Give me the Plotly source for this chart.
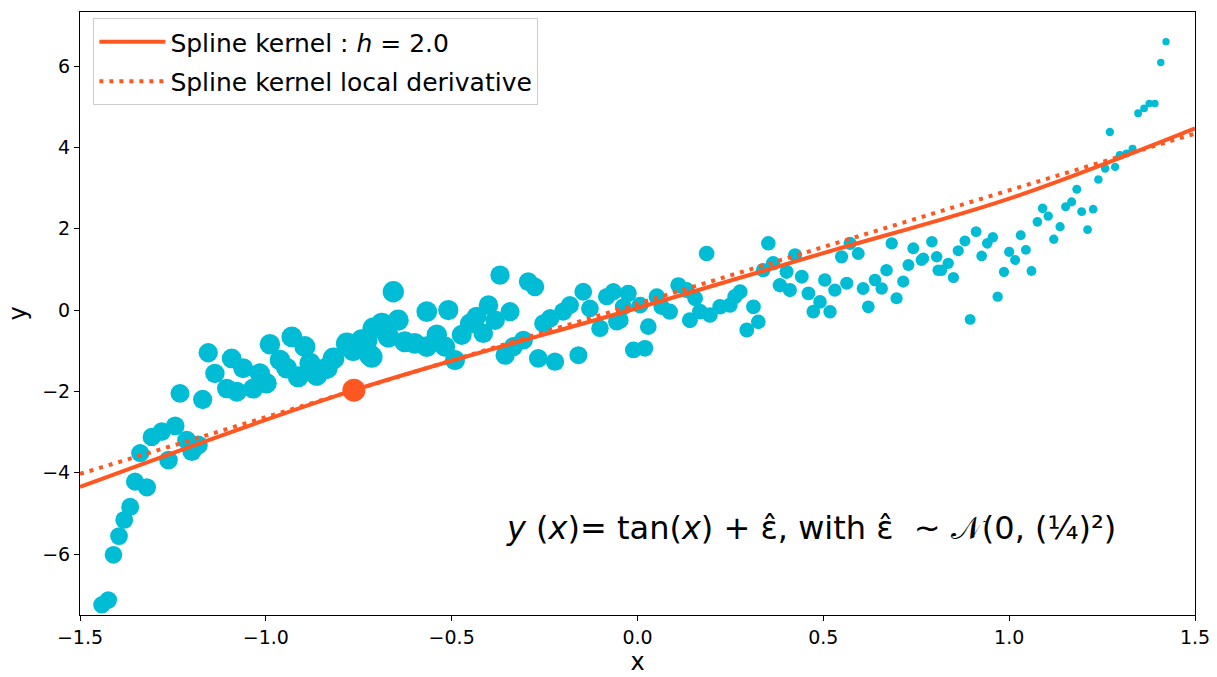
import plotly.graph_objects as go

# ---- data ----
x_pts = [-1.441,-1.424,-1.410,-1.395,-1.381,-1.365,-1.352,-1.338,-1.320,-1.307,
         -1.280,-1.262,-1.244,-1.231,-1.213,-1.199,-1.182,-1.170,-1.155,-1.137,
         -1.105,-1.092,-1.078,-1.061,-1.034,-1.016,-0.998,-0.989,-0.962,-0.944,
         -0.930,-0.913,-0.895,-0.881,-0.863,-0.836,-0.818,-0.782,-0.765,-0.742,
         -0.729,-0.720,-0.715,-0.711,-0.688,-0.670,-0.657,-0.644,-0.626,-0.599,
         -0.567,-0.567,-0.540,-0.518,-0.509,-0.491,-0.473,-0.451,-0.433,-0.415,
         -0.401,-0.383,-0.370,-0.356,-0.343,-0.334,-0.307,-0.294,-0.276,-0.267,
         -0.253,-0.235,-0.222,-0.200,-0.182,-0.159,-0.146,-0.128,-0.101,-0.083,
         -0.065,-0.056,-0.047,-0.038,-0.025,-0.011,0.007,0.020,0.029,0.052,
         0.065,0.087,0.110,0.132,0.141,0.155,0.168,0.186,0.195,0.222,
         0.249,0.262,0.276,0.294,0.312,0.325,0.338,0.352,0.365,0.383,
         0.401,0.410,0.424,0.442,0.460,0.473,0.491,0.504,0.518,0.531,
         0.549,0.563,0.572,0.594,0.607,0.621,0.639,0.657,0.670,0.684,
         0.697,0.715,0.729,0.742,0.764,0.769,0.792,0.805,0.809,0.818,
         0.836,0.850,0.863,0.881,0.895,0.911,0.926,0.941,0.956,0.969,
         0.986,1.000,1.016,1.031,1.045,1.060,1.076,1.090,1.105,1.120,
         1.137,1.152,1.168,1.182,1.195,1.211,1.226,1.240,1.258,1.271,
         1.285,1.298,1.316,1.332,1.347,1.363,1.377,1.392,1.408,1.422]
y_pts = [-7.25,-7.13,-6.02,-5.56,-5.16,-4.84,-4.22,-3.52,-4.36,-3.12,
         -2.99,-3.69,-2.85,-2.05,-3.20,-3.48,-3.32,-2.20,-1.05,-1.56,
         -1.93,-1.19,-2.01,-1.43,-1.93,-1.56,-1.80,-0.84,-1.23,-1.43,
         -0.66,-1.64,-0.90,-1.31,-1.60,-1.43,-1.19,-0.82,-0.98,-0.74,
         -0.74,-1.11,-1.15,-0.45,-0.33,-0.66,0.45,-0.25,-0.78,-0.82,
         -0.04,-0.90,-0.61,-0.90,0.00,-1.23,-0.61,-0.33,-0.16,-0.57,
         0.12,-0.25,0.86,-1.11,-0.04,-0.90,-0.74,0.70,0.57,-1.19,
         -0.33,-0.20,-1.27,-0.04,0.12,-1.11,0.45,0.04,-0.45,0.33,
         0.45,-0.29,-0.25,0.08,0.41,-0.98,0.12,-0.94,-0.41,0.33,
         0.08,-0.04,0.61,0.49,-0.25,0.29,-0.04,1.39,-0.12,0.08,
         0.12,0.33,0.45,-0.49,0.08,-0.29,0.98,1.64,1.15,0.61,
         0.94,0.49,1.35,0.82,0.41,-0.04,0.20,0.74,-0.04,0.49,
         1.31,0.66,1.64,1.39,0.53,0.08,0.74,0.53,0.98,1.64,
         0.29,0.70,1.11,1.52,1.23,1.27,1.68,1.31,0.98,0.98,
         1.15,0.80,1.46,1.70,-0.23,1.93,1.33,1.64,1.79,0.33,
         0.94,1.43,1.23,1.84,1.48,0.96,2.17,2.50,2.31,1.74,
         2.05,2.54,2.66,2.97,2.42,1.98,2.48,3.21,3.48,4.38,
         3.52,3.81,3.85,3.97,4.84,4.96,5.08,5.08,6.09,6.60]

# kernel fit curve (anchor values)
fit_x = [-1.5, -0.763, 0.0, 0.5, 1.0, 1.5]
fit_y = [-4.35, -1.97, 0.05, 1.40, 2.74, 4.47]

# local derivative (tangent) line
tan_x = [-1.5, 1.5]
tan_y = [-4.03, 4.34]

# evaluation point
x0 = -0.763
y0 = -1.97

x_ticks = [-1.5, -1.0, -0.5, 0.0, 0.5, 1.0, 1.5]
x_tick_text = ["\u22121.5", "\u22121.0", "\u22120.5", "0.0", "0.5", "1.0", "1.5"]
y_ticks = [-6, -4, -2, 0, 2, 4, 6]
y_tick_text = ["\u22126", "\u22124", "\u22122", "0", "2", "4", "6"]

CYAN = "#00BCD4"
ORANGE = "#FF5722"
FONT = "DejaVu Sans"

sizes = [max(6.0, 22.0 - 6.7 * abs(x - x0)) for x in x_pts]

fig = go.Figure()
fig.add_trace(go.Scatter(x=x_pts, y=y_pts, mode="markers",
                         marker=dict(color=CYAN, size=sizes, opacity=1, line=dict(width=0)),
                         showlegend=False, hoverinfo="skip"))
fig.add_trace(go.Scatter(x=fit_x, y=fit_y, mode="lines",
                         line=dict(color=ORANGE, width=4, shape="spline"),
                         legendgroup="fit",
                         name="Spline kernel : <i>h</i> = 2.0"))
fig.add_trace(go.Scatter(x=tan_x, y=tan_y, mode="lines",
                         line=dict(color=ORANGE, width=4, dash="4px,6px"),
                         legendgroup="deriv",
                         name="Spline kernel local derivative"))
fig.add_trace(go.Scatter(x=[x0], y=[y0], mode="markers",
                         marker=dict(color=ORANGE, size=23, opacity=1),
                         showlegend=False))

fig.add_annotation(x=0.467, y=-5.36, xref="x", yref="y",
                   text="<i>y</i> (<i>x</i>)= tan(<i>x</i>) + \u03b5\u0302, with \u03b5\u0302  ~ \U0001D4A9(0, (\u00bc)\u00b2)",
                   showarrow=False, font=dict(family=FONT, size=32, color="black"))

axis_common = dict(showline=True, linecolor="black", linewidth=1, mirror=True,
                   ticks="outside", ticklen=5, tickwidth=1, tickcolor="black",
                   showgrid=False, zeroline=False, automargin=False,
                   tickfont=dict(family=FONT, size=19, color="black"))

fig.update_layout(
    width=1217, height=677,
    margin=dict(l=80, r=22, t=12, b=62),
    plot_bgcolor="white", paper_bgcolor="white",
    font=dict(family=FONT, color="black"),
    xaxis=dict(range=[-1.5, 1.5], tickvals=x_ticks, ticktext=x_tick_text,
               title=dict(text="x", font=dict(family=FONT, size=24), standoff=4),
               **axis_common),
    yaxis=dict(range=[-7.5, 7.33], tickvals=y_ticks, ticktext=y_tick_text,
               title=dict(text="y", font=dict(family=FONT, size=24), standoff=8),
               **axis_common),
    legend=dict(x=0.012, y=0.99, xanchor="left", yanchor="top",
                bgcolor="white", bordercolor="#cccccc", borderwidth=1,
                itemwidth=66, tracegroupgap=4,
                font=dict(family=FONT, size=25, color="black")),
)

fig.write_html("out.html")
